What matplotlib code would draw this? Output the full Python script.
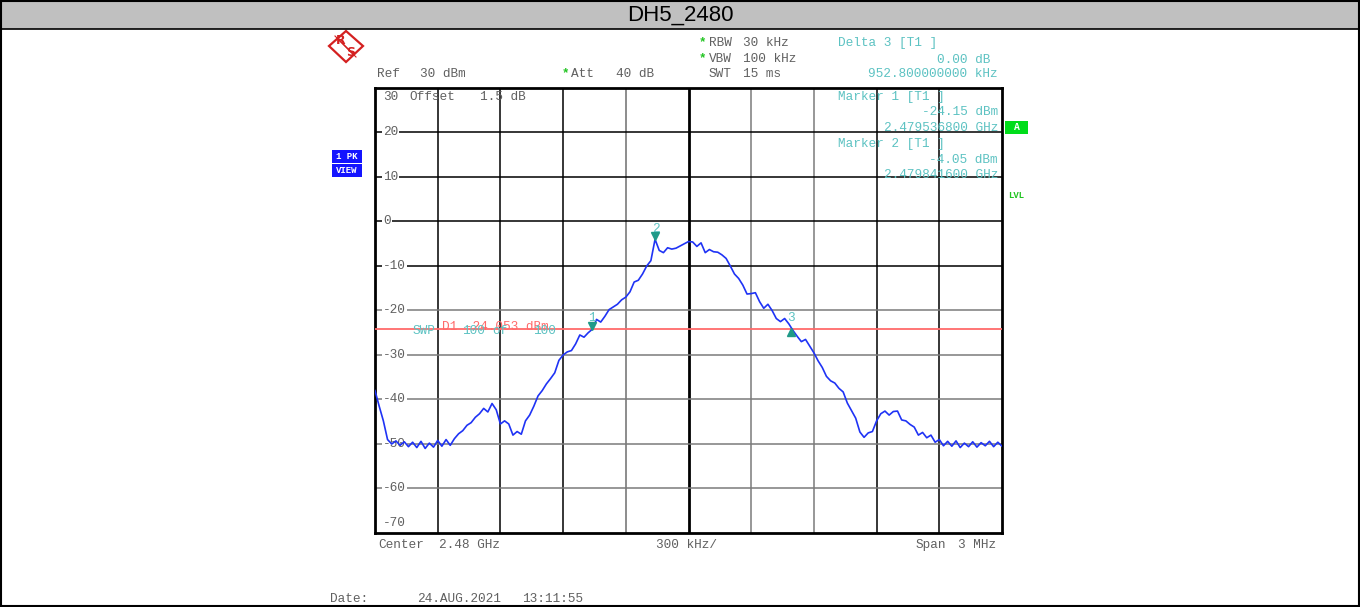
import numpy as np
import matplotlib
matplotlib.use("Agg")
import matplotlib.pyplot as plt
from matplotlib.patches import Rectangle, Polygon
from matplotlib.transforms import blended_transform_factory

# ---------------- data ----------------
title = "DH5_2480"
center_ghz = 2.48
span_khz = 3000.0
ref_level = 30.0
y_ticks = [20, 10, 0, -10, -20, -30, -40, -50, -60]
y_tick_labels = ["20", "10", "0", "-10", "-20", "-30", "-40", "-50", "-60"]

# sweep points: frequency offset from center (kHz) and measured level (dBm)
freq_offset_khz = [
    -1500, -1480, -1460, -1440, -1420, -1400, -1380, -1360, -1340, -1320,
    -1300, -1280, -1260, -1240, -1220, -1200, -1180, -1160, -1140, -1120,
    -1100, -1080, -1060, -1040, -1020, -1000, -980, -960, -940, -920,
    -900, -880, -860, -840, -820, -800, -780, -760, -740, -720,
    -700, -680, -660, -640, -620, -600, -580, -560, -540, -520,
    -500, -480, -460, -440, -420, -400, -380, -360, -340, -320,
    -300, -280, -260, -240, -220, -200, -180, -160, -140, -120,
    -100, -80, -60, -40, -20, 0, 20, 40, 60, 80,
    100, 120, 140, 160, 180, 200, 220, 240, 260, 280,
    300, 320, 340, 360, 380, 400, 420, 440, 460, 480,
    500, 520, 540, 560, 580, 600, 620, 640, 660, 680,
    700, 720, 740, 760, 780, 800, 820, 840, 860, 880,
    900, 920, 940, 960, 980, 1000, 1020, 1040, 1060, 1080,
    1100, 1120, 1140, 1160, 1180, 1200, 1220, 1240, 1260, 1280,
    1300, 1320, 1340, 1360, 1380, 1400, 1420, 1440, 1460, 1480,
    1500]
level_dbm = [
    -38.0, -41.5, -44.8, -49.0, -50.0, -49.3, -50.3, -49.5, -50.6, -49.6,
    -50.8, -49.4, -51.0, -49.8, -50.7, -49.2, -50.5, -49.0, -50.3, -48.8,
    -47.7, -47.0, -45.8, -45.2, -44.0, -43.2, -42.0, -42.8, -40.9, -42.3,
    -45.5, -44.8, -45.5, -48.0, -47.2, -47.8, -44.8, -43.5, -41.5, -39.2,
    -38.0, -36.5, -35.3, -34.0, -31.2, -30.0, -29.3, -29.0, -27.5, -25.5,
    -26.0, -25.0, -24.2, -22.0, -22.6, -21.3, -19.8, -19.2, -18.6, -17.6,
    -17.0, -15.8, -13.6, -13.2, -11.8, -10.0, -8.8, -4.0, -6.5, -7.0,
    -5.9, -6.2, -6.0, -5.5, -5.0, -4.5, -4.6, -5.6, -4.8, -7.0,
    -6.3, -6.8, -6.9, -7.5, -8.3, -10.0, -11.8, -12.8, -14.3, -16.3,
    -16.2, -16.0, -18.0, -19.5, -18.6, -20.0, -21.8, -22.5, -21.8, -23.0,
    -24.5, -25.8, -27.0, -26.5, -28.0, -29.5, -31.3, -32.8, -34.8, -35.8,
    -36.3, -37.5, -38.3, -40.8, -42.5, -44.2, -47.3, -48.5, -47.5, -47.2,
    -44.8, -43.2, -42.6, -43.5, -42.7, -42.6, -44.6, -44.8, -45.6, -46.2,
    -48.0, -47.4, -48.6, -48.0, -49.6, -49.0, -50.4, -49.4, -50.5, -49.3,
    -50.8, -49.8, -50.6, -49.5, -50.7, -49.7, -50.4, -49.4, -50.6, -49.6,
    -50.5]

# markers: (label, offset kHz, level dBm)
marker_labels = ["1", "2", "3"]
marker_offset_khz = [-463.2, -158.4, 489.6]
marker_level_dbm = [-24.15, -4.05, -24.15]
display_line_dbm = -24.053

# ---------------- style ----------------
GRAY = "#606060"
TEAL = "#5cc2c2"
MTEAL = "#1f9a88"
RED = "#ff6a6a"
GREEN = "#22c422"
BLUE = "#1f33f5"
LOGO = "#d42020"
FONT = "Liberation Mono"
FS = 9.2

plt.rcParams["font.family"] = [FONT, "DejaVu Sans Mono"]

W, H = 1360, 607
fig = plt.figure(figsize=(W / 100, H / 100), dpi=100)
fig.patch.set_facecolor("white")

# overlay axes in pixel coordinates
ov = fig.add_axes([0, 0, 1, 1], zorder=0)
ov.set_xlim(0, W)
ov.set_ylim(H, 0)
ov.axis("off")

def T(x, y, s, color=GRAY, ha="left", size=FS, **kw):
    ov.text(x, y, s, color=color, ha=ha, va="center", fontsize=size,
            family=FONT, **kw)

# title bar and outer border
ov.add_patch(Rectangle((0, 0), W, 29, facecolor="#c0c0c0", edgecolor="none"))
ov.plot([0, W], [29, 29], color="black", lw=1.2)
ov.add_patch(Rectangle((0.5, 0.5), W - 1.5, H - 1.5, facecolor="none",
                       edgecolor="black", lw=1.5))
ov.text(W / 2, 15, title, ha="center", va="center", fontsize=16,
        family="Liberation Sans", color="black")

# R&S logo
cx, cy = 346, 46
ov.add_patch(Polygon([(cx, cy - 15), (cx + 17, cy), (cx, cy + 16), (cx - 17, cy)],
                     closed=True, facecolor="white", edgecolor=LOGO, lw=1.6))
for d in (-2, 0, 2):
    ov.plot([cx - 9 + d, cx + 8 + d], [cy - 8 + d, cy + 9 + d], color=LOGO, lw=0.8)
ov.text(cx - 5, cy - 5, "R", color=LOGO, fontsize=9, fontweight="bold",
        family="DejaVu Sans", ha="center", va="center")
ov.text(cx + 5, cy + 6, "S", color=LOGO, fontsize=9, fontweight="bold",
        family="DejaVu Sans", ha="center", va="center")

# header texts
T(562, 73, "*", color=GREEN, size=9, fontweight="bold")
T(377, 74, "Ref")
T(420, 74, "30 dBm")
T(571, 74, "Att")
T(616, 74, "40 dB")
T(699, 42, "*", color=GREEN, size=9, fontweight="bold")
T(709, 43, "RBW")
T(743, 43, "30 kHz")
T(699, 58, "*", color=GREEN, size=9, fontweight="bold")
T(709, 59, "VBW")
T(743, 59, "100 kHz")
T(709, 74, "SWT")
T(743, 74, "15 ms")

T(838, 43, "Delta 3 [T1 ]", color=TEAL)
T(990, 60, "0.00 dB", color=TEAL, ha="right")
T(998, 74, "952.800000000 kHz", color=TEAL, ha="right")

# side boxes
ov.add_patch(Rectangle((332, 150), 30, 13, facecolor="#1414ff", edgecolor="none"))
ov.add_patch(Rectangle((332, 164), 30, 13, facecolor="#1414ff", edgecolor="none"))
T(347, 156.5, "1 PK", color="white", ha="center", size=6.5, fontweight="bold")
T(347, 170.5, "VIEW", color="white", ha="center", size=6.5, fontweight="bold")
ov.add_patch(Rectangle((1005, 121), 23, 13, facecolor="#00dd1a", edgecolor="none"))
T(1016.5, 127.5, "A", color="white", ha="center", size=7, fontweight="bold")
T(1008, 195, "LVL", color=GREEN, size=6.5, fontweight="bold")

# footer texts
T(378, 545, "Center")
T(439, 545, "2.48 GHz")
T(656, 545, "300 kHz/")
T(916, 545, "Span")
T(958, 545, "3 MHz")
T(330, 599, "Date:")
T(417, 599, "24.AUG.2021")
T(522, 599, "13:11:55")

# ---------------- main axes ----------------
x0, x1, y0, y1 = 375, 1002, 88, 533
ax = fig.add_axes([x0 / W, 1 - y1 / H, (x1 - x0) / W, (y1 - y0) / H], zorder=2)
ax.set_facecolor("white")
half = span_khz / 2
ax.set_xlim(-half, half)
ax.set_ylim(ref_level - 100, ref_level)
ax.set_xticks([])
ax.set_yticks([])
for s in ax.spines.values():
    s.set_linewidth(2.0)
    s.set_color("black")

vgrid_colors = ["black", "black", "black", "#6e6e6e", "black", "#7a7a7a",
                "#7a7a7a", "black", "black"]
for i, c in enumerate(vgrid_colors):
    xv = -half + (i + 1) * span_khz / 10
    ax.axvline(xv, color=c, lw=2.0 if i == 4 else 1.1, zorder=1)
for v in y_ticks:
    ax.axhline(v, color="black" if v >= -10 else "#7a7a7a", lw=1.1, zorder=1)

bt = blended_transform_factory(ax.transAxes, ax.transData)
for v, lab in zip(y_ticks, y_tick_labels):
    ax.text(0.0128, v, lab, transform=bt, ha="left", va="center", color=GRAY,
            fontsize=FS, zorder=3,
            bbox=dict(facecolor="white", edgecolor="none", pad=0.6))
ax.text(0.0128, ref_level - 2.0, "30", transform=bt, ha="left", va="center",
        color=GRAY, fontsize=FS, zorder=3)
ax.text(0.0128, ref_level - 97.8, "-70", transform=bt, ha="left", va="center",
        color=GRAY, fontsize=FS, zorder=3)

# inside-plot labels (pixel positions)
def AT(x, y, s, color=GRAY, ha="left"):
    ax.text((x - x0) / (x1 - x0), (y1 - y) / (y1 - y0), s, transform=ax.transAxes,
            color=color, ha=ha, va="center", fontsize=FS, zorder=6, family=FONT)

AT(409, 97, "Offset")
AT(480, 97, "1.5 dB")
AT(838, 97, "Marker 1 [T1 ]", TEAL)
AT(998, 112, "-24.15 dBm", TEAL, "right")
AT(998, 128, "2.479536800 GHz", TEAL, "right")
AT(838, 144, "Marker 2 [T1 ]", TEAL)
AT(998, 160, "-4.05 dBm", TEAL, "right")
AT(998, 175, "2.479841600 GHz", TEAL, "right")

# display line
ax.axhline(display_line_dbm, color=RED, lw=1.3, zorder=4)
AT(442, 327, "D1 -24.053 dBm", RED)
AT(413, 331, "SWP", TEAL)
AT(462, 331, "100", TEAL)
AT(492, 331, "of", TEAL)
AT(533, 331, "100", TEAL)

# trace
ax.plot(freq_offset_khz, level_dbm, color=BLUE, lw=1.2, zorder=5)

# markers
for lab, fo, lv in zip(marker_labels, marker_offset_khz, marker_level_dbm):
    up = lab == "3"
    ax.plot(fo, lv - 0.6 if up else lv + 0.7, marker="^" if up else "v",
            color=MTEAL, markersize=5.5, zorder=7, linestyle="none")
    ax.text(fo, lv + 2.4, lab, color=TEAL, ha="center", va="center",
            fontsize=FS, zorder=7)

fig.savefig("out.png", dpi=100, facecolor="white")
